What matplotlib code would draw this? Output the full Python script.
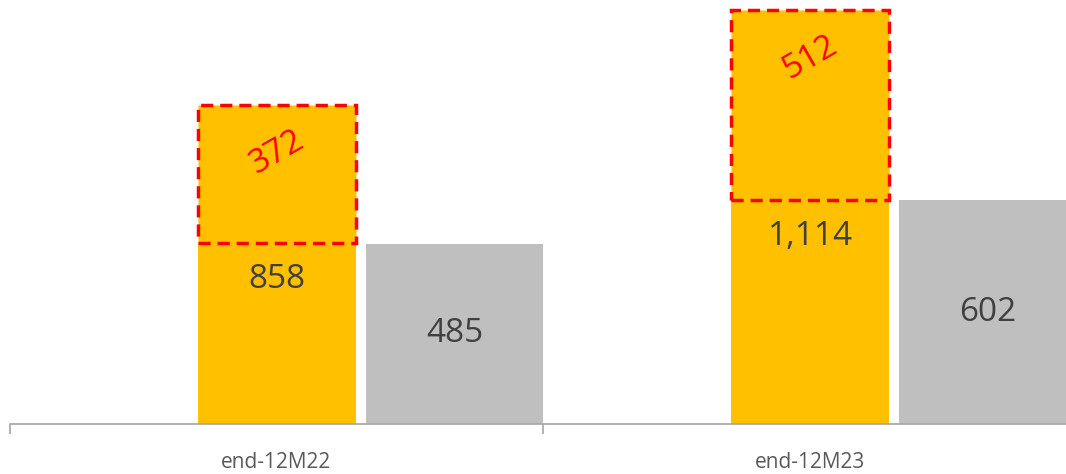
import numpy as np
import matplotlib.pyplot as plt

# Chart data
categories = ['end-12M22', 'end-12M23']
yellow_total = [858, 1114]
yellow_extra = [372, 512]
gray_values = [485, 602]

yellow_base = [t - e for t, e in zip(yellow_total, yellow_extra)]

plt.rcParams['font.family'] = ['Open Sans', 'DejaVu Sans']

fig = plt.figure(figsize=(10.66, 4.74), dpi=100)
ax = fig.add_axes([10 / 1066, 50 / 474, 1.0, 424 / 474])

x = np.arange(len(categories))

# yellow base and dashed extra part
ax.bar(x - 0.147, yellow_base, width=0.297, align='edge', color='#FFC000')
ax.bar(x - 0.147, yellow_extra, width=0.297, bottom=yellow_base, align='edge',
       color='#FFC000', edgecolor='#FF0000', linestyle=(0, (3.5, 2)), linewidth=2.5)

# gray bars
ax.bar(x + 0.168, gray_values, width=0.332, align='edge', color='#BFBFBF')

# labels
for i in range(len(categories)):
    xc = x[i] - 0.147 + 0.297 / 2
    ax.annotate(f'{yellow_total[i]:,}', (xc, yellow_base[i]), xytext=(0, -26),
                textcoords='offset points', ha='center', va='center',
                fontsize=24, color='#404040')
    ax.annotate(f'{yellow_extra[i]:,}', (xc, yellow_total[i]), xytext=(0, -34),
                textcoords='offset points', ha='center', va='center',
                fontsize=24, color='#FF0000', rotation=30)
    ax.text(x[i] + 0.168 + 0.332 / 2, gray_values[i] / 2, f'{gray_values[i]:,}',
            ha='center', va='center', fontsize=24, color='#404040')

ax.set_xlim(-0.5, 1.5)
ax.set_ylim(0, 424 / 0.372)

for s in ['top', 'right', 'left']:
    ax.spines[s].set_visible(False)
ax.spines['bottom'].set_color('#A6A6A6')
ax.spines['bottom'].set_linewidth(1.2)

ax.set_yticks([])
ax.set_xticks([-0.5, 0.5, 1.5])
ax.set_xticklabels([])
ax.tick_params(axis='x', which='major', length=7, width=1.2, color='#A6A6A6', direction='out')
ax.set_xticks(x, minor=True)
ax.set_xticklabels(categories, minor=True)
ax.tick_params(axis='x', which='minor', length=0, pad=20, labelsize=15, labelcolor='#595959')

fig.savefig('out.png', dpi=100)
